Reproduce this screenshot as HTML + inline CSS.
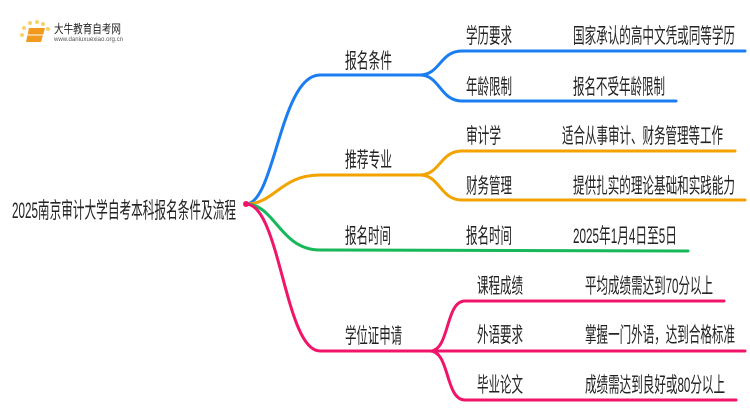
<!DOCTYPE html>
<html><head><meta charset="utf-8"><style>
html,body{margin:0;padding:0;background:#fff;width:750px;height:410px;overflow:hidden}
text{font-family:"Liberation Sans","Noto Sans CJK SC",sans-serif;fill:#222;font-size:21px}
</style></head><body>
<svg width="750" height="410" viewBox="0 0 750 410">
<g fill="none" stroke-width="3" stroke-linecap="round">
<path d="M246,204 C275,204 280,75 320,75 L420,75" stroke="#1a7df0"/>
<path d="M420,75 C440,75 440,51 462,51 L745,51 M420,75 C440,75 440,101 462,101 L676,101" stroke="#1a7df0"/>
<path d="M246,204 C275,204 280,175 320,175 L420,175" stroke="#f2a300"/>
<path d="M420,175 C440,175 440,151 462,151 L735,151 M420,175 C440,175 440,200 462,200 L745,200" stroke="#f2a300"/>
<path d="M246,204 C275,204 280,250 320,250 L688,251" stroke="#16b85a"/>
<path d="M246,204 C280,204 285,351 320,351 L745,351" stroke="#f0156a"/>
<path d="M430,351 C450,351 445,301 465,301 L724,301 M430,351 C450,351 445,400 465,400 L736,400" stroke="#f0156a"/>
</g>
<circle cx="246" cy="204" r="3" fill="#f0156a"/>
<g>
<circle cx="24" cy="28" r="2" fill="#f8d26a"/><circle cx="30" cy="23" r="2" fill="#f8d26a"/><circle cx="37" cy="22" r="2" fill="#f8d26a"/><circle cx="43" cy="24" r="2" fill="#f8d26a"/><circle cx="22" cy="35" r="2" fill="#f8d26a"/><circle cx="48" cy="29" r="2" fill="#f8d26a"/>
<path d="M29,28 L45,28 L41,42 L26,42 Z" fill="#f29a1e"/>
<path d="M27,35 L43,35" stroke="#fff" stroke-width="1"/>
<text x="54" y="33" style="font-size:12px" textLength="67" lengthAdjust="spacingAndGlyphs">大牛教育自考网</text>
<text x="54" y="41" style="font-size:6px;fill:#555" textLength="69" lengthAdjust="spacingAndGlyphs">www.daniuxuexiao.org.cn</text>
</g>
<text x="12" y="218" style="font-size:22px" textLength="224" lengthAdjust="spacingAndGlyphs">2025南京审计大学自考本科报名条件及流程</text>
<text x="345" y="68" textLength="47" lengthAdjust="spacingAndGlyphs">报名条件</text>
<text x="345" y="167" textLength="47" lengthAdjust="spacingAndGlyphs">推荐专业</text>
<text x="345" y="243" textLength="46" lengthAdjust="spacingAndGlyphs">报名时间</text>
<text x="345" y="343" textLength="57" lengthAdjust="spacingAndGlyphs">学位证申请</text>
<text x="466" y="43" textLength="46" lengthAdjust="spacingAndGlyphs">学历要求</text>
<text x="466" y="94" textLength="46" lengthAdjust="spacingAndGlyphs">年龄限制</text>
<text x="466" y="143" textLength="35" lengthAdjust="spacingAndGlyphs">审计学</text>
<text x="466" y="193" textLength="46" lengthAdjust="spacingAndGlyphs">财务管理</text>
<text x="466" y="243" textLength="46" lengthAdjust="spacingAndGlyphs">报名时间</text>
<text x="477" y="293" textLength="46" lengthAdjust="spacingAndGlyphs">课程成绩</text>
<text x="477" y="342" textLength="46" lengthAdjust="spacingAndGlyphs">外语要求</text>
<text x="477" y="392" textLength="46" lengthAdjust="spacingAndGlyphs">毕业论文</text>
<text x="573" y="43" textLength="162" lengthAdjust="spacingAndGlyphs">国家承认的高中文凭或同等学历</text>
<text x="573" y="94" textLength="92" lengthAdjust="spacingAndGlyphs">报名不受年龄限制</text>
<text x="562" y="143" textLength="161" lengthAdjust="spacingAndGlyphs">适合从事审计、财务管理等工作</text>
<text x="573" y="193" textLength="162" lengthAdjust="spacingAndGlyphs">提供扎实的理论基础和实践能力</text>
<text x="573" y="243" textLength="104" lengthAdjust="spacingAndGlyphs">2025年1月4日至5日</text>
<text x="585" y="293" textLength="128" lengthAdjust="spacingAndGlyphs">平均成绩需达到70分以上</text>
<text x="585" y="342" textLength="150" lengthAdjust="spacingAndGlyphs">掌握一门外语，达到合格标准</text>
<text x="585" y="392" textLength="140" lengthAdjust="spacingAndGlyphs">成绩需达到良好或80分以上</text>
</svg>
</body></html>
